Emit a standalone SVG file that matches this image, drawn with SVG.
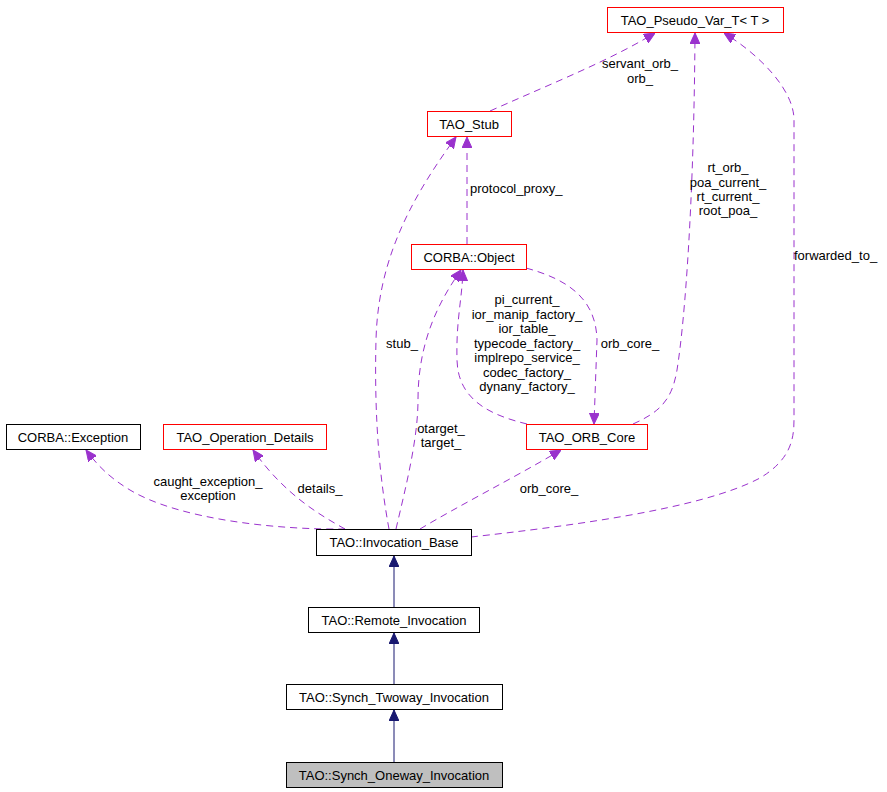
<svg xmlns="http://www.w3.org/2000/svg" width="887" height="792" viewBox="0 0 887 792">
<style>
  .box{fill:#ffffff;stroke:#000000;stroke-width:1}
  .red{fill:#ffffff;stroke:#ff0000;stroke-width:1}
  .cur{fill:#bfbfbf;stroke:#000000;stroke-width:1}
  text{font-family:"Liberation Sans",Arial,sans-serif;font-size:13px;fill:#000000}
  .c{text-anchor:middle}
  .use{fill:none;stroke:#9a32cd;stroke-width:1;stroke-dasharray:7,5;marker-end:url(#pa)}
  .inh{fill:none;stroke:#191970;stroke-width:1;marker-end:url(#ba)}
</style>
<defs>
  <marker id="pa" markerUnits="userSpaceOnUse" viewBox="0 0 11 10" refX="11" refY="5" markerWidth="11" markerHeight="10" orient="auto">
    <path d="M0,0 L11,5 L0,10 z" fill="#9a32cd" stroke="#9a32cd"/>
  </marker>
  <marker id="ba" markerUnits="userSpaceOnUse" viewBox="0 0 11 10" refX="11" refY="5" markerWidth="11" markerHeight="10" orient="auto">
    <path d="M0,0 L11,5 L0,10 z" fill="#191970" stroke="#191970"/>
  </marker>
</defs>
<rect width="887" height="792" fill="#ffffff"/>
<g id="edges">
  <path class="use" d="M490,111 C560,80 610,60 655,33"/>
  <path class="use" d="M633,424 C660,412 672,400 677,370 C685,320 694,200 695,33"/>
  <path class="use" d="M471,537 C560,527 700,510 760,478 C790,460 794,440 794,420 L794,120 C794,90 760,55 724,33"/>
  <path class="use" d="M467,244 L467,137"/>
  <path class="use" d="M389,529 C380,480 374,420 376,340 C378,260 410,200 456,137"/>
  <path class="use" d="M396,529 C405,490 418,440 418,400 C418,340 440,300 461,270"/>
  <path class="use" d="M527,424 C490,415 458,400 457,360 C456,320 462,300 463,270"/>
  <path class="use" d="M526,268 C570,280 596,300 597,340 L594,424"/>
  <path class="use" d="M345,529 C280,530 180,520 130,490 C110,478 98,466 86,450"/>
  <path class="use" d="M345,529 C320,515 285,495 253,450"/>
  <path class="use" d="M420,529 C460,505 510,480 561,450"/>
  <path class="inh" d="M394,607 L394,556"/>
  <path class="inh" d="M394,684 L394,633"/>
  <path class="inh" d="M394,762 L394,710"/>
  <text class="c" x="640" y="68">servant_orb_</text>
  <text class="c" x="640" y="83">orb_</text>
  <text class="c" x="728" y="172">rt_orb_</text>
  <text class="c" x="728" y="187">poa_current_</text>
  <text class="c" x="728" y="201">rt_current_</text>
  <text class="c" x="728" y="215">root_poa_</text>
  <text x="794" y="260">forwarded_to_</text>
  <text x="470" y="193">protocol_proxy_</text>
  <text class="c" x="402" y="348">stub_</text>
  <text class="c" x="527" y="304">pi_current_</text>
  <text class="c" x="527" y="319">ior_manip_factory_</text>
  <text class="c" x="527" y="333">ior_table_</text>
  <text class="c" x="527" y="348">typecode_factory_</text>
  <text class="c" x="527" y="362">implrepo_service_</text>
  <text class="c" x="527" y="377">codec_factory_</text>
  <text class="c" x="527" y="391">dynany_factory_</text>
  <text class="c" x="630" y="348">orb_core_</text>
  <text class="c" x="441" y="433">otarget_</text>
  <text class="c" x="441" y="447">target_</text>
  <text class="c" x="208" y="486">caught_exception_</text>
  <text class="c" x="208" y="500">exception</text>
  <text class="c" x="320" y="493">details_</text>
  <text class="c" x="549" y="493">orb_core_</text>
</g>
<g id="TAO_Pseudo_Var_T"><rect class="red" x="607.5" y="7.5" width="176" height="25"/><text class="c" x="695" y="25">TAO_Pseudo_Var_T&lt; T &gt;</text></g>
<g id="TAO_Stub"><rect class="red" x="427.5" y="111.5" width="84" height="25"/><text class="c" x="469" y="129">TAO_Stub</text></g>
<g id="CORBA_Object"><rect class="red" x="411.5" y="244.5" width="115" height="25"/><text class="c" x="469" y="262">CORBA::Object</text></g>
<g id="TAO_ORB_Core"><rect class="red" x="526.5" y="424.5" width="121" height="25"/><text class="c" x="587" y="442">TAO_ORB_Core</text></g>
<g id="CORBA_Exception"><rect class="box" x="6.5" y="424.5" width="134" height="25"/><text class="c" x="73" y="442">CORBA::Exception</text></g>
<g id="TAO_Operation_Details"><rect class="red" x="163.5" y="424.5" width="163" height="25"/><text class="c" x="245" y="442">TAO_Operation_Details</text></g>
<g id="TAO_Invocation_Base"><rect class="box" x="316.5" y="529.5" width="155" height="26"/><text class="c" x="394" y="547">TAO::Invocation_Base</text></g>
<g id="TAO_Remote_Invocation"><rect class="box" x="308.5" y="607.5" width="171" height="25"/><text class="c" x="394" y="625">TAO::Remote_Invocation</text></g>
<g id="TAO_Synch_Twoway_Invocation"><rect class="box" x="286.5" y="684.5" width="216" height="25"/><text class="c" x="394" y="702">TAO::Synch_Twoway_Invocation</text></g>
<g id="TAO_Synch_Oneway_Invocation"><rect class="cur" x="286.5" y="762.5" width="216" height="25"/><text class="c" x="394" y="780">TAO::Synch_Oneway_Invocation</text></g>
</svg>
